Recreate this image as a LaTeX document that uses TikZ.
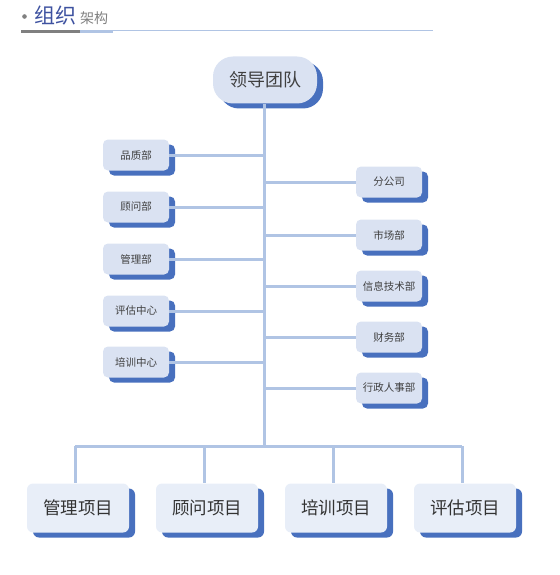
\documentclass[tikz,border=0pt]{standalone}
\usepackage{fontspec}
\newfontfamily\cjk{Noto Sans CJK SC}
\usepackage{tikz}
\usetikzlibrary{positioning,calc,shadows}
\definecolor{linkBlue}{RGB}{176,196,228}
\definecolor{shadeBlue}{RGB}{72,112,190}
\definecolor{boxFill}{RGB}{218,226,242}
\definecolor{projFill}{RGB}{232,238,248}
\definecolor{titleBlue}{RGB}{62,82,160}
\definecolor{titleGray}{RGB}{128,128,128}

\begin{document}
\begin{tikzpicture}[
        x=1pt, y=-1pt,
        font=\cjk,
        boxshade/.style={drop shadow={shadow xshift=6pt, shadow yshift=-5pt, fill=shadeBlue, opacity=1}},
        dept/.style={rounded corners=5pt, fill=boxFill, boxshade, minimum width=66pt, minimum height=31pt, inner sep=0pt, font=\cjk\fontsize{10.5}{12}\selectfont, text=black!75},
        proj/.style={rounded corners=6pt, fill=projFill, boxshade, minimum width=102pt, minimum height=49pt, inner sep=0pt, font=\cjk\fontsize{17.5}{20}\selectfont, text=black!80},
        link/.style={linkBlue, line width=3pt}
      ]
        \useasboundingbox (0,0) rectangle (559,575);
        % Title
        \fill[titleGray] (24.5,16.5) circle (2.3pt);
        \node[text=titleBlue, font=\cjk\fontsize{21}{21}\selectfont, anchor=west, inner sep=0pt] (ttl) at (34,16) {组织};
        \node[text=titleGray, font=\cjk\fontsize{14}{14}\selectfont, anchor=west, inner sep=0pt] (sub) at (80,18.5) {架构};
        \fill[titleGray] (21,30) rectangle (80,33.5);
        \fill[linkBlue] (80,30) rectangle (113,33.5);
        \draw[linkBlue, line width=0.8pt] (113,30.8) -- (433,30.8);
        % Leader
        \node[rounded corners=20pt, fill=boxFill, boxshade, minimum width=104pt, minimum height=47pt, font=\cjk\fontsize{18}{20}\selectfont, text=black!75] (lead) at (265,80) {领导团队};
        % Left departments
        \node[dept] (d1) at (136,155) {品质部};
        \node[dept] (d2) at (136,207) {顾问部};
        \node[dept] (d3) at (136,259) {管理部};
        \node[dept] (d4) at (136,311) {评估中心};
        \node[dept] (d5) at (136,362) {培训中心};
        % Right departments
        \node[dept] (r1) at (389,182) {分公司};
        \node[dept] (r2) at (389,235) {市场部};
        \node[dept] (r3) at (389,286) {信息技术部};
        \node[dept] (r4) at (389,337) {财务部};
        \node[dept] (r5) at (389,388) {行政人事部};
        % Projects
        \node[proj] (p1) at (78,508) {管理项目};
        \node[proj] (p2) at (207,508) {顾问项目};
        \node[proj] (p3) at (336,508) {培训项目};
        \node[proj] (p4) at (465,508) {评估项目};
        % Trunk and bus
        \coordinate (hub) at (264,446);
        \coordinate (j1) at (75,446);
        \coordinate (j2) at (204,446);
        \coordinate (j3) at (333,446);
        \coordinate (j4) at (462,446);
        \draw[link] (lead.south -| hub) -- (hub);
        \draw[link] (j1) -- (j4);
        \foreach \j/\p in {j1/p1,j2/p2,j3/p3,j4/p4}
          \draw[link] (\j) -- (\j |- \p.north);
        \foreach \d in {d1,d2,d3,d4,d5}
          \draw[link] (\d.east) -- (\d.east -| hub);
        \foreach \r in {r1,r2,r3,r4,r5}
          \draw[link] (\r.west -| hub) -- (\r.west);
      \end{tikzpicture}
\end{document}
